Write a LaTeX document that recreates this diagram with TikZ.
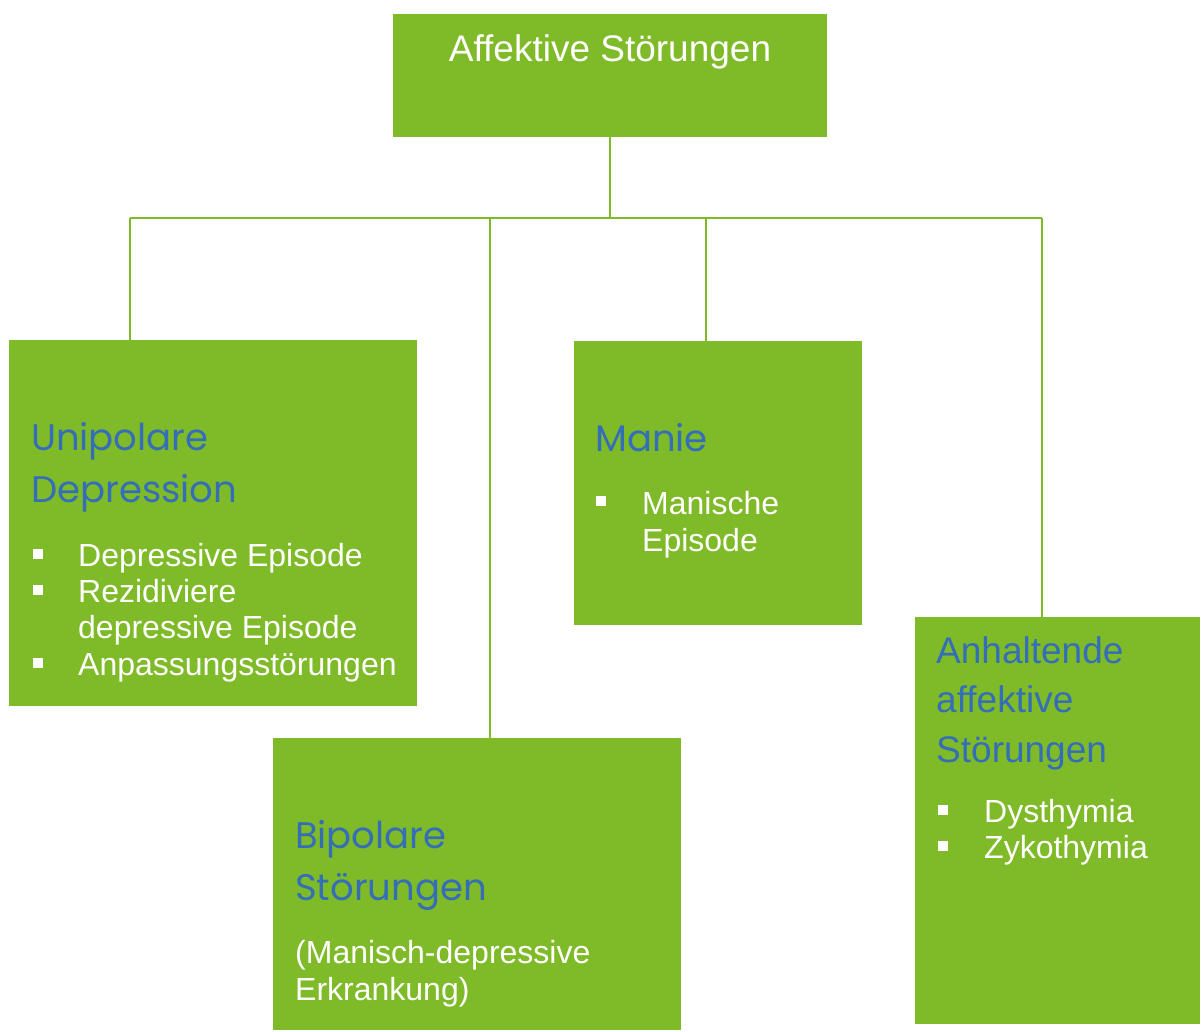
\documentclass[tikz,border=0pt]{standalone}
\usepackage{fontspec}
\setmainfont{Liberation Sans}
\newfontfamily\headfont{Poppins}
\usetikzlibrary{positioning}
\definecolor{gruen}{HTML}{7FBA28}
\definecolor{blau}{HTML}{356EB8}

\begin{document}
\begin{tikzpicture}[
    x=1pt, y=-1pt,
    kasten/.style={
      fill=gruen,
      draw=none,
      inner sep=0pt,
      outer sep=0pt,
      anchor=north west
    },
    verb/.style={draw=gruen, line width=2.4pt},
    zeile/.style={anchor=base west, inner sep=0pt, text=white, font=\fontsize{32}{36}\selectfont},
    kopf/.style={anchor=base west, inner sep=0pt, text=blau, font=\headfont\fontsize{37}{44}\selectfont},
    kopfb/.style={anchor=base west, inner sep=0pt, text=blau, font=\fontsize{37}{44}\selectfont},
    punkt/.style={fill=white, inner sep=0pt, minimum size=10pt}
  ]
    \useasboundingbox (0,0) rectangle (1201,1032);

    % Kaesten
    \node[kasten, minimum width=434pt, minimum height=123pt] (haupt) at (393,14) {};
    \node[kasten, minimum width=408pt, minimum height=366pt] (uni) at (9,340) {};
    \node[kasten, minimum width=288pt, minimum height=284pt] (manie) at (574,341) {};
    \node[kasten, minimum width=408pt, minimum height=292pt] (bip) at (273,738) {};
    \node[kasten, minimum width=285pt, minimum height=407pt] (anh) at (915,617) {};

    % Verbindungen
    \coordinate (mitte) at (610,218);
    \coordinate (uj) at (130,218);
    \coordinate (bj) at (490,218);
    \coordinate (mj) at (706,218);
    \coordinate (aj) at (1042,218);
    \draw[verb] (haupt.south -| mitte) -- (mitte);
    \draw[verb] (uj) -- (aj);
    \draw[verb] (uj) -- (uj |- uni.north);
    \draw[verb] (bj) -- (bj |- bip.north);
    \draw[verb] (mj) -- (mj |- manie.north);
    \draw[verb] (aj) -- (aj |- anh.north);

    % Titel
    \node[zeile, anchor=base, font=\fontsize{37}{44}\selectfont] (titel) at (610,62) {Affektive Störungen};

    % Unipolare Depression
    \node[kopf] (uk1) at (31,450) {Unipolare};
    \node[kopf] (uk2) at (31,502) {Depression};
    \node[punkt] (up1) at (37.5,554) {};
    \node[zeile] (ut1) at (78,566) {Depressive Episode};
    \node[punkt] (up2) at (37.5,590) {};
    \node[zeile] (ut2) at (78,602) {Rezidiviere};
    \node[zeile] (ut3) at (78,638) {depressive Episode};
    \node[punkt] (up3) at (37.5,663) {};
    \node[zeile] (ut4) at (78,675) {Anpassungsstörungen};

    % Manie
    \node[kopf] (mk1) at (595,451) {Manie};
    \node[punkt] (mp1) at (601,501) {};
    \node[zeile] (mt1) at (642,514) {Manische};
    \node[zeile] (mt2) at (642,551) {Episode};

    % Bipolare Stoerungen
    \node[kopf] (bk1) at (295,848) {Bipolare};
    \node[kopf] (bk2) at (295,900) {Störungen};
    \node[zeile] (bt1) at (295,963) {(Manisch-depressive};
    \node[zeile] (bt2) at (295,1000) {Erkrankung)};

    % Anhaltende affektive Stoerungen
    \node[kopfb] (ak1) at (936,663) {Anhaltende};
    \node[kopfb] (ak2) at (936,712) {affektive};
    \node[kopfb] (ak3) at (936,762) {Störungen};
    \node[punkt] (ap1) at (943,810) {};
    \node[zeile] (at1) at (984,822) {Dysthymia};
    \node[punkt] (ap2) at (943,846) {};
    \node[zeile] (at2) at (984,858) {Zykothymia};
  \end{tikzpicture}
\end{document}
